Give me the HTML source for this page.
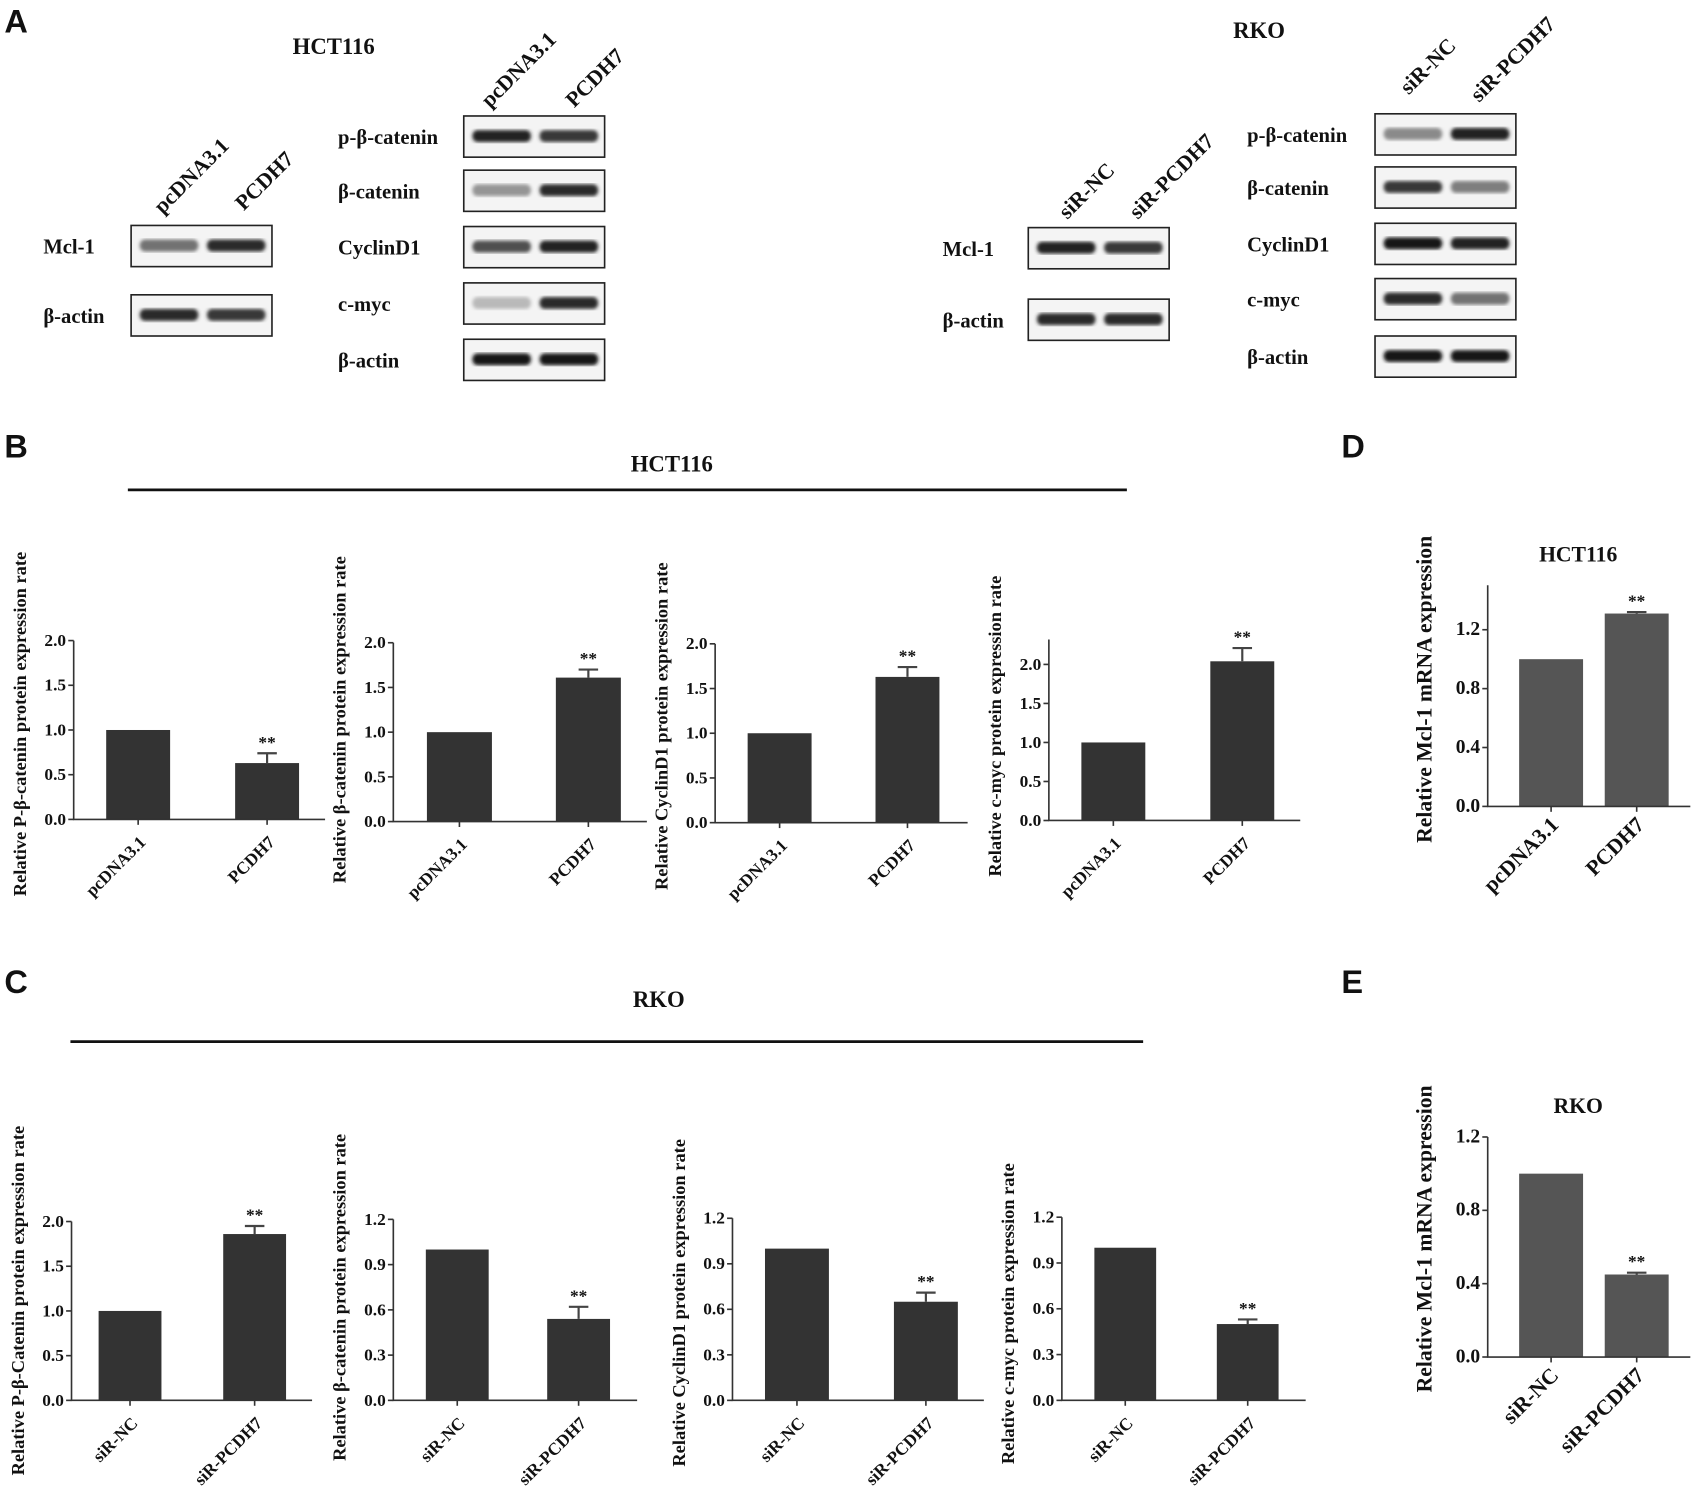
<!DOCTYPE html>
<html><head><meta charset="utf-8">
<style>
html,body{margin:0;padding:0;background:#fff;}
svg{display:block;}
text{font-family:"Liberation Serif",serif;font-weight:bold;fill:#111;}
.lt{font-family:"Liberation Sans",sans-serif;font-weight:bold;font-size:30px;}
</style></head>
<body>
<svg id="fig" width="1699" height="1499" viewBox="0 0 1568 1383" preserveAspectRatio="none" xmlns="http://www.w3.org/2000/svg">
<defs>
<filter id="blur"><feGaussianBlur stdDeviation="1.6"/></filter>
</defs>
<text class="lt" x="4" y="30">A</text>
<text class="lt" x="4" y="422">B</text>
<text class="lt" x="4" y="916">C</text>
<text class="lt" x="1238" y="422">D</text>
<text class="lt" x="1238" y="916">E</text>
<text x="308" y="50" font-size="21" text-anchor="middle">HCT116</text>
<text x="1162" y="35" font-size="21" text-anchor="middle">RKO</text>
<text x="620" y="435" font-size="21" text-anchor="middle">HCT116</text>
<line x1="118" y1="452" x2="1040" y2="452" stroke="#111" stroke-width="2.5"/>
<text x="608" y="929" font-size="21" text-anchor="middle">RKO</text>
<line x1="65" y1="961" x2="1055" y2="961" stroke="#111" stroke-width="2.5"/>
<g id="blots"></g>
<g id="charts"></g>
</svg>
<script>
// ---- chart data ----
const hctCats = ["pcDNA3.1","PCDH7"];
const rkoCats = ["siR-NC","siR-PCDH7"];
const bPcat = [1.0, 0.63];   const bPcatErr = [0, 0.11];
const bBcat = [1.0, 1.61];   const bBcatErr = [0, 0.09];
const bCyc  = [1.0, 1.63];   const bCycErr  = [0, 0.11];
const bMyc  = [1.0, 2.04];   const bMycErr  = [0, 0.17];
const cPcat = [1.0, 1.86];   const cPcatErr = [0, 0.09];
const cBcat = [1.0, 0.54];   const cBcatErr = [0, 0.08];
const cCyc  = [1.0, 0.65];   const cCycErr  = [0, 0.06];
const cMyc  = [1.0, 0.50];   const cMycErr  = [0, 0.03];
const dMcl  = [1.0, 1.31];   const dMclErr  = [0, 0.01];
const eMcl  = [1.0, 0.45];   const eMclErr  = [0, 0.01];
const ticks20 = ["0.0","0.5","1.0","1.5","2.0"];
const ticks12 = ["0.0","0.3","0.6","0.9","1.2"];
const ticks12b = ["0.0","0.4","0.8","1.2"];
const sig = ["", "**"];

const NS="http://www.w3.org/2000/svg";
const svg=document.getElementById('fig');
const chartsG=document.getElementById('charts');
const blotsG=document.getElementById('blots');
function mk(tag,attrs,parent){const e=document.createElementNS(NS,tag);for(const k in attrs)e.setAttribute(k,attrs[k]);(parent||svg).appendChild(e);return e;}

const layouts=[
 {id:'b1',ax:68,y0:756,ytop:591,ymax:2.0,top:591,bx:[98,217],bw:59,ticks:ticks20,vals:bPcat,errs:bPcatErr,cats:hctCats,ylab:"Relative  P-β-catenin protein expression rate",fill:'#333',xend:300,lyc:668},
 {id:'b2',ax:363,y0:758,ytop:593,ymax:2.0,top:593,bx:[394,513],bw:60,ticks:ticks20,vals:bBcat,errs:bBcatErr,cats:hctCats,ylab:"Relative  β-catenin protein expression rate",fill:'#333',xend:597,lyc:664},
 {id:'b3',ax:660,y0:759,ytop:594,ymax:2.0,top:594,bx:[690,808],bw:59,ticks:ticks20,vals:bCyc,errs:bCycErr,cats:hctCats,ylab:"Relative  CyclinD1 protein expression rate",fill:'#333',xend:893,lyc:670},
 {id:'b4',ax:968,y0:757,ytop:613,ymax:2.0,top:590,bx:[998,1117],bw:59,ticks:ticks20,vals:bMyc,errs:bMycErr,cats:hctCats,ylab:"Relative c-myc protein expression rate",fill:'#333',xend:1200,lyc:670},
 {id:'c1',ax:66,y0:1292,ytop:1127,ymax:2.0,top:1127,bx:[91,206],bw:58,ticks:ticks20,vals:cPcat,errs:cPcatErr,cats:rkoCats,ylab:"Relative P-β-Catenin protein expression rate",fill:'#333',xend:288,lyc:1200},
 {id:'c2',ax:363,y0:1292,ytop:1125,ymax:1.2,top:1125,bx:[393,505],bw:58,ticks:ticks12,vals:cBcat,errs:cBcatErr,cats:rkoCats,ylab:"Relative β-catenin protein expression rate",fill:'#333',xend:588,lyc:1197},
 {id:'c3',ax:676,y0:1292,ytop:1124,ymax:1.2,top:1124,bx:[706,825],bw:59,ticks:ticks12,vals:cCyc,errs:cCycErr,cats:rkoCats,ylab:"Relative CyclinD1 protein expression rate",fill:'#333',xend:908,lyc:1202},
 {id:'c4',ax:980,y0:1292,ytop:1123,ymax:1.2,top:1123,bx:[1010,1123],bw:57,ticks:ticks12,vals:cMyc,errs:cMycErr,cats:rkoCats,ylab:"Relative c-myc protein expression rate",fill:'#333',xend:1205,lyc:1212},
 {id:'d',ax:1373,y0:744,ytop:581,ymax:1.2,top:540,bx:[1402,1481],bw:59,ticks:ticks12b,vals:dMcl,errs:dMclErr,cats:hctCats,ylab:"Relative  Mcl-1 mRNA expression",fill:'#555',xend:1560,title:"HCT116",big:true,lyc:636},
 {id:'e',ax:1373,y0:1252,ytop:1049,ymax:1.2,top:1049,bx:[1402,1481],bw:59,ticks:ticks12b,vals:eMcl,errs:eMclErr,cats:rkoCats,ylab:"Relative  Mcl-1 mRNA expression",fill:'#555',xend:1560,title:"RKO",big:true,lyc:1143}
];

layouts.forEach(L=>{
 const g=mk('g',{},chartsG);
 
 
 const y=v=>L.y0-(v/L.ymax)*(L.y0-L.ytop);
 const tfs=L.big?18:16;
 L.vals.forEach((v,i)=>{
  const x=L.bx[i];
  const r=mk('rect',{x:x,y:y(v),width:L.bw,height:L.y0-y(v),fill:L.fill},g);
  
  
  const e=L.errs[i];
  if(e>0){
   const cx=x+L.bw/2;
   const el=mk('path',{d:`M${cx} ${y(v)} V${y(v+e)} M${cx-9} ${y(v+e)} H${cx+9}`,stroke:'#444','stroke-width':2,fill:'none'},g);
   
   
  }
  if(sig[i]){
   const st=mk('text',{x:x+L.bw/2,y:y(v+e)-5,'font-size':16,'text-anchor':'middle','font-weight':'normal'},g);
   st.textContent=sig[i];
   
   
  }
  const cx=x+L.bw/2;
  mk('line',{x1:cx,y1:L.y0,x2:cx,y2:L.y0+5,stroke:'#333','stroke-width':1.5},g);
  const lx=cx+8, ly=L.y0+(L.big?18:22);
  const t=mk('text',{x:lx,y:ly,'font-size':L.big?20:16,'text-anchor':'end',transform:`rotate(-45 ${lx} ${ly})`},g);
  t.textContent=L.cats[i];
  
  
 });
 const ax=mk('path',{d:`M${L.ax} ${L.top} V${L.y0} H${L.xend}`,stroke:'#333','stroke-width':1.5,fill:'none'},g);
 
 
 const step=L.ymax/(L.ticks.length-1);
 L.ticks.forEach((tl,k)=>{
  const ty=y(k*step);
  mk('line',{x1:L.ax-5,y1:ty,x2:L.ax,y2:ty,stroke:'#333','stroke-width':1.5},g);
  const t=mk('text',{x:L.ax-7,y:ty+5,'font-size':tfs,'text-anchor':'end'},g);
  t.textContent=tl;
  
  
 });
 const lx=L.ax-(L.big?52:44), ly=L.lyc;
 const yl=mk('text',{x:lx,y:ly,'font-size':L.big?20:17,'text-anchor':'middle',transform:`rotate(-90 ${lx} ${ly})`},g);
 yl.textContent=L.ylab;
 
 
 if(L.title){
  const tt=mk('text',{x:(L.ax+L.xend)/2-10,y:L.top-22,'font-size':20,'text-anchor':'middle'},g);
  tt.textContent=L.title;
  
  
 }
});

const blots=[
 [121,208,"Mcl-1",40,[0.6,0.9]],[121,272,"β-actin",40,[0.9,0.85]],
 [428,107,"p-β-catenin",312,[0.95,0.85]],[428,157,"β-catenin",312,[0.45,0.9]],[428,209,"CyclinD1",312,[0.75,0.95]],[428,261,"c-myc",312,[0.3,0.9]],[428,313,"β-actin",312,[1,1]],
 [949,210,"Mcl-1",870,[0.95,0.85]],[949,276,"β-actin",870,[0.9,0.9]],
 [1269,105,"p-β-catenin",1151,[0.5,0.95]],[1269,154,"β-catenin",1151,[0.85,0.55]],[1269,206,"CyclinD1",1151,[1,0.95]],[1269,257,"c-myc",1151,[0.9,0.6]],[1269,310,"β-actin",1151,[1,1]]
];
blots.forEach((b,i)=>{
 const [x,y,lab,lx,ints]=b;
 const g=mk('g',{},blotsG);
 
 
 mk('rect',{x:x,y:y,width:130,height:38,fill:'#f4f4f4',stroke:'#222','stroke-width':1.5},g);
 ints.forEach((v,j)=>{
  const c=Math.round(255-v*235);
  mk('rect',{x:x+8+j*62,y:y+13,width:54,height:11,rx:5,fill:`rgb(${c},${c},${c})`,filter:'url(#blur)'},g);
 });
 const t=mk('text',{x:lx,y:y+26,'font-size':19},g);
 t.textContent=lab;
 
 
});
const lanes=[[150,198,"pcDNA3.1"],[225,195,"PCDH7"],[452,100,"pcDNA3.1"],[530,100,"PCDH7"],[985,203,"siR-NC"],[1050,203,"siR-PCDH7"],[1300,88,"siR-NC"],[1365,95,"siR-PCDH7"]];
lanes.forEach((l,i)=>{
 const t=mk('text',{x:l[0],y:l[1],'font-size':20,transform:`rotate(-45 ${l[0]} ${l[1]})`},blotsG);
 t.textContent=l[2];
 
 
});
</script>
</body></html>
